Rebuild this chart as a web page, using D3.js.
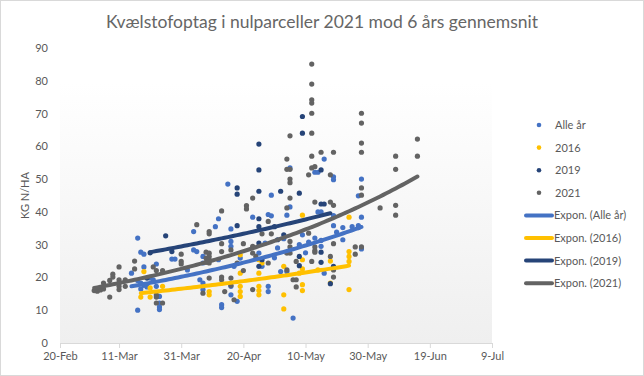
<!DOCTYPE html>
<html>
<head>
<meta charset="utf-8">
<script src="https://cdnjs.cloudflare.com/ajax/libs/d3/7.8.5/d3.min.js"></script>
<style>
  body { margin: 0; background: #fff; }
  #chart { width: 644px; height: 376px; }
  text { font-family: Lato, "Open Sans", sans-serif; fill: #595959; }
</style>
</head>
<body>
<div id="chart"></div>
<script>
// tick labels for the date axis
const xTicks = ["20-Feb", "11-Mar", "31-Mar", "20-Apr", "10-May", "30-May", "19-Jun", "9-Jul"];
const yTicks = [0, 10, 20, 30, 40, 50, 60, 70, 80, 90];

// series names + colours
const seriesNames = ["Alle år", "2016", "2019", "2021"];
const seriesColors = ["#4472C4", "#FFC000", "#264478", "#636363"];

// points: [date, kg N/ha]
const alleAar = [
  ["17-Mar",32.0],["17-Mar",10.0],["18-Mar",27.7],["19-Mar",27.1],["19-Mar",23.2],["15-Mar",21.3],
  ["17-Mar",19.1],["18-Mar",18.3],["19-Mar",17.6],["20-Mar",17.1],["18-Mar",16.5],["21-Mar",19.8],
  ["22-Mar",19.3],["23-Mar",24.1],["23-Mar",17.3],["24-Mar",14.2],["24-Mar",12.2],["24-Mar",11.0],
  ["24-Mar",10.2],["28-Mar",25.6],["29-Mar",25.6],["2-Apr",22.3],["4-Apr",34.0],["4-Apr",28.4],
  ["5-Apr",27.9],["11-Apr",35.5],["12-Apr",37.9],["16-Apr",34.8],["16-Apr",31.0],["16-Apr",29.5],
  ["7-Apr",26.4],["7-Apr",24.4],["12-Apr",25.4],["17-Apr",23.4],["19-Apr",25.9],["26-Apr",23.4],
  ["2-May",21.8],["4-May",21.8],["6-Apr",19.3],["7-Apr",18.3],["7-Apr",16.3],["16-Apr",17.3],
  ["16-Apr",14.7],["13-Apr",11.7],["13-Apr",10.8],["18-Apr",12.7],["28-Apr",17.3],["28-Apr",15.7],
  ["6-May",7.6],["25-Apr",27.4],["15-Apr",48.5],["29-Apr",45.1],["5-May",41.5],["5-May",53.4],
  ["23-Apr",38.4],["28-Apr",39.2],["29-Apr",38.8],["4-May",39.0],["16-May",56.1],["13-May",52.1],
  ["14-May",52.1],["19-May",50.7],["19-May",49.8],["28-May",50.0],["28-May",38.4],["28-May",28.7],
  ["27-May",44.9],["14-May",40.0],["15-May",40.0],["19-May",38.9],["27-May",35.8],["27-May",35.2],
  ["22-May",35.2],["22-May",31.5],["19-May",35.8],["13-May",32.0],["15-May",29.5],["16-May",21.3],
  ["15-May",31.3],["20-May",33.8],["25-May",35.5],["27-Apr",30.5],["1-May",29.0],["3-May",31.8],
  ["8-May",30.0],["9-May",33.0],["10-May",27.5],["11-May",30.8],["30-Apr",26.0]
];
const y2016 = [
  ["19-Mar",21.8],["21-Mar",16.8],["21-Mar",14.0],["18-Mar",14.0],["25-Mar",17.3],["9-Apr",15.7],
  ["9-Apr",14.7],["19-Apr",21.3],["19-Apr",17.3],["19-Apr",15.7],["19-Apr",14.2],["25-Apr",21.3],
  ["25-Apr",17.3],["25-Apr",16.0],["25-Apr",14.7],["25-Apr",25.4],["3-May",23.4],["3-May",14.7],
  ["3-May",10.4],["26-Apr",24.4],["19-Apr",26.9],["9-May",25.4],["9-May",22.6],["9-May",17.8],
  ["9-May",16.0],["9-May",39.0],["18-May",25.0],["18-May",18.3],["24-May",27.9],["24-May",26.4],
  ["24-May",24.9],["24-May",16.3],["24-May",38.4],["14-May",22.3],["8-May",21.3]
];
const y2019 = [
  ["26-Mar",32.7],["28-Mar",27.9],["20-Mar",19.8],["18-Apr",35.8],["25-Apr",35.5],["25-Apr",30.5],
  ["25-Apr",23.4],["25-Apr",60.7],["25-Apr",52.8],["25-Apr",46.3],["25-Apr",37.9],["18-Apr",47.3],
  ["18-Apr",45.4],["2-May",46.3],["30-Apr",35.5],["26-Apr",25.4],["3-May",33.0],["1-May",31.5],
  ["8-May",45.7],["9-May",69.1],["9-May",64.0],["15-May",52.8],["15-May",42.4],["15-May",27.7],
  ["15-May",24.6],["16-May",42.4],["8-May",26.4],["8-May",23.6],["18-May",18.1],["19-May",23.4],
  ["21-Mar",27.5]
];
const y2021 = [
  ["3-Mar",16.0],["4-Mar",15.8],["5-Mar",16.2],["6-Mar",18.3],["6-Mar",16.5],["8-Mar",19.1],
  ["8-Mar",14.0],["9-Mar",21.0],["9-Mar",20.1],["11-Mar",23.2],["11-Mar",19.3],["11-Mar",18.3],
  ["11-Mar",17.3],["11-Mar",16.3],["13-Mar",19.3],["13-Mar",17.3],["16-Mar",25.0],["16-Mar",22.6],
  ["22-Mar",23.2],["23-Mar",22.1],["23-Mar",14.7],["23-Mar",14.0],["23-Mar",12.2],["25-Mar",22.1],
  ["25-Mar",12.2],["31-Mar",27.1],["31-Mar",24.9],["31-Mar",24.1],["5-Apr",36.1],["9-Apr",34.0],
  ["9-Apr",33.3],["8-Apr",27.7],["8-Apr",25.9],["8-Apr",24.6],["9-Apr",27.4],["9-Apr",26.4],
  ["9-Apr",25.4],["9-Apr",24.4],["9-Apr",19.8],["7-Apr",15.2],["13-Apr",30.3],["13-Apr",27.9],
  ["13-Apr",20.1],["13-Apr",19.3],["13-Apr",40.3],["14-Apr",15.7],["16-Apr",28.4],["16-Apr",19.8],
  ["16-Apr",17.6],["17-Apr",13.2],["18-Apr",24.4],["20-Apr",30.3],["20-Apr",22.1],["21-Apr",41.9],
  ["21-Apr",40.9],["23-Apr",29.5],["23-Apr",27.4],["23-Apr",16.3],["23-Apr",44.2],["24-Apr",26.4],
  ["26-Apr",33.3],["28-Apr",24.4],["28-Apr",37.1],["29-Apr",33.3],["4-May",27.4],["4-May",22.3],
  ["4-May",56.1],["4-May",53.0],["4-May",41.2],["5-May",63.2],["5-May",53.0],["5-May",50.0],
  ["5-May",48.9],["5-May",44.2],["6-May",19.3],["5-May",31.0],["5-May",29.3],["5-May",27.4],
  ["7-May",24.9],["7-May",19.3],["7-May",17.1],["12-May",85.1],["12-May",79.0],["12-May",74.2],
  ["12-May",73.2],["12-May",70.1],["12-May",64.0],["12-May",57.0],["12-May",53.4],["11-May",51.3],
  ["11-May",33.5],["13-May",53.8],["13-May",43.0],["13-May",29.3],["13-May",28.2],["13-May",27.7],
  ["12-May",24.9],["15-May",58.2],["18-May",51.3],["18-May",43.0],["18-May",26.4],["19-May",58.2],
  ["19-May",42.0],["19-May",30.3],["19-May",22.3],["19-May",20.1],["26-May",29.3],["26-May",27.1],
  ["28-May",70.1],["28-May",67.1],["28-May",61.0],["28-May",58.2],["28-May",47.3],["28-May",45.1],
  ["28-May",29.3],["3-Jun",41.2],["8-Jun",57.0],["8-Jun",53.0],["8-Jun",42.0],["8-Jun",39.0],
  ["15-Jun",62.2],["15-Jun",57.0]
];

// exponential trendlines: [start date, value, end date, value]
const trendAlle = ["15-Mar", 17.3, "28-May", 35.4];
const trend2016 = ["18-Mar", 15.2, "24-May", 23.6];
const trend2019 = ["21-Mar", 27.7, "18-May", 39.6];
const trend2021 = ["3-Mar", 16.8, "15-Jun", 50.8];

const W = 644, H = 376;
const margin = { top: 48, right: 152, bottom: 33, left: 60 };
const parse = d3.timeParse("%d-%b");

const svg = d3.select("#chart").append("svg")
  .attr("width", W).attr("height", H);

// outer border
svg.append("rect")
  .attr("x", 0.5).attr("y", 0.5).attr("width", W - 1).attr("height", H - 1)
  .attr("fill", "#fff").attr("stroke", "#d9d9d9");

const x = d3.scaleTime()
  .domain([parse(xTicks[0]), parse(xTicks[xTicks.length - 1])])
  .range([margin.left, W - margin.right]);
const y = d3.scaleLinear()
  .domain([0, 90])
  .range([H - margin.bottom, margin.top]);

// plot area gradient
const grad = svg.append("defs").append("linearGradient")
  .attr("id", "bg").attr("x1", 0).attr("y1", 0).attr("x2", 0).attr("y2", 1);
grad.append("stop").attr("offset", "0%").attr("stop-color", "#ffffff");
grad.append("stop").attr("offset", "12%").attr("stop-color", "#ffffff");
grad.append("stop").attr("offset", "100%").attr("stop-color", "#efefef");

svg.append("rect")
  .attr("x", x.range()[0]).attr("y", y(90))
  .attr("width", x.range()[1] - x.range()[0])
  .attr("height", y(0) - y(90))
  .attr("fill", "url(#bg)");

// title
svg.append("text")
  .attr("x", W / 2).attr("y", 28)
  .attr("text-anchor", "middle")
  .style("font-size", "17.5px")
  .style("fill", "#666")
  .text("Kvælstofoptag i nulparceller  2021 mod 6 års gennemsnit");

// y axis (labels only)
const yAxis = svg.append("g")
  .attr("transform", `translate(${margin.left}, 0)`)
  .call(d3.axisLeft(y).tickValues(yTicks).tickSize(0).tickPadding(12));
yAxis.select(".domain").remove();
yAxis.selectAll("text").style("font-size", "11px").attr("fill", "#595959");

// x axis
const xAxis = svg.append("g")
  .attr("transform", `translate(0, ${y(0)})`)
  .call(d3.axisBottom(x)
    .tickValues(xTicks.map(parse))
    .tickFormat(d3.timeFormat("%-d-%b"))
    .tickSize(5).tickSizeOuter(0).tickPadding(4));
xAxis.select(".domain").attr("stroke", "#d9d9d9");
xAxis.selectAll(".tick line").attr("stroke", "#d9d9d9");
xAxis.selectAll("text").style("font-size", "11px").attr("fill", "#595959");

// y title
svg.append("text")
  .attr("transform", `translate(29, ${(y(0) + y(90)) / 2}) rotate(-90)`)
  .attr("text-anchor", "middle")
  .style("font-size", "11px")
  .text("KG N/HA");

// scatter points
const allSeries = [alleAar, y2016, y2019, y2021];
allSeries.forEach((pts, i) => {
  svg.append("g").selectAll("circle")
    .data(pts)
    .join("circle")
    .attr("cx", d => x(parse(d[0])))
    .attr("cy", d => y(d[1]))
    .attr("r", 2.6)
    .attr("fill", seriesColors[i]);
});

// exponential trendlines
const trends = [trendAlle, trend2016, trend2019, trend2021];
const line = d3.line().x(d => x(d[0])).y(d => y(d[1]));
trends.forEach((t, i) => {
  const t0 = parse(t[0]), t1 = parse(t[2]);
  const days = (t1 - t0) / 864e5;
  const b = Math.log(t[3] / t[1]) / days;
  const pts = d3.range(0, days + 0.5, 1).map(k => [d3.timeDay.offset(t0, k), t[1] * Math.exp(b * k)]);
  svg.append("path")
    .datum(pts)
    .attr("d", line)
    .attr("fill", "none")
    .attr("stroke", seriesColors[i])
    .attr("stroke-width", 4)
    .attr("stroke-linecap", "round");
});

// legend
const legend = svg.append("g").attr("transform", "translate(525, 125)");
seriesNames.forEach((n, i) => {
  const g = legend.append("g").attr("transform", `translate(0, ${i * 22.6})`);
  g.append("circle").attr("cx", 14).attr("cy", 0).attr("r", 2.3).attr("fill", seriesColors[i]);
  g.append("text").attr("x", 30).attr("y", 4).style("font-size", "11px").text(n);
});
seriesNames.forEach((n, i) => {
  const g = legend.append("g").attr("transform", `translate(0, ${(i + 4) * 22.6})`);
  g.append("line").attr("x1", 1).attr("x2", 27).attr("y1", 0).attr("y2", 0)
    .attr("stroke", seriesColors[i]).attr("stroke-width", 4).attr("stroke-linecap", "round");
  g.append("text").attr("x", 29).attr("y", 4).style("font-size", "11px").text(`Expon. (${n})`);
});
</script>
</body>
</html>
